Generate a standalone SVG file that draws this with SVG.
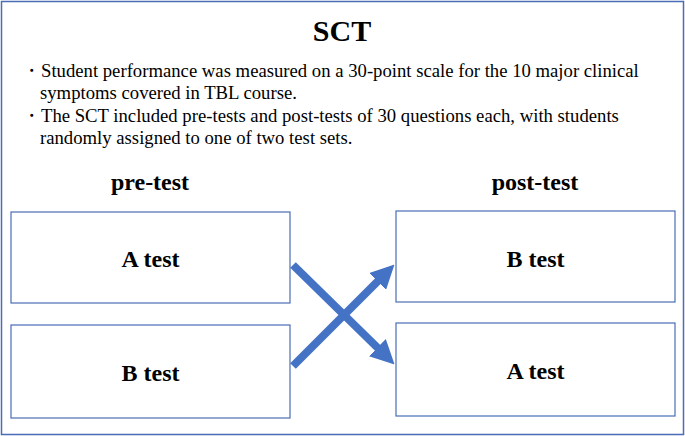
<svg xmlns="http://www.w3.org/2000/svg" width="685" height="436" viewBox="0 0 685 436">
<style>
.box{fill:#fff;stroke:#4a6db5;stroke-width:1.2}
.lbl{font-family:"Liberation Serif",serif;font-weight:bold;font-size:24px;text-anchor:middle}
.txt{font-family:"Liberation Serif",serif;font-size:18.7px}
.arr{stroke:#4472c4;stroke-width:8;fill:none}
</style>
<defs>
<marker id="ah" markerWidth="3" markerHeight="3" refX="1.5" refY="1.5" orient="auto" markerUnits="strokeWidth">
<path d="M0,0 L3,1.5 L0,3 z" fill="#4472c4"/>
</marker>
</defs>
<rect x="1.5" y="1.5" width="682" height="433" fill="#fff" stroke="#4a6db5" stroke-width="1.5"/>
<text x="342" y="41" class="lbl" style="font-size:30px">SCT</text>
<g class="txt">
<text x="22" y="77">・Student performance was measured on a 30-point scale for the 10 major clinical</text>
<text x="40" y="99">symptoms covered in TBL course.</text>
<text x="22" y="122">・The SCT included pre-tests and post-tests of 30 questions each, with students</text>
<text x="40" y="144">randomly assigned to one of two test sets.</text>
</g>
<text x="150" y="190" class="lbl">pre-test</text>
<text x="535" y="190" class="lbl">post-test</text>
<g id="preA"><rect class="box" x="11" y="212" width="279" height="91"/><text x="150.5" y="267" class="lbl">A test</text></g>
<g id="preB"><rect class="box" x="11" y="325" width="279" height="93"/><text x="150.5" y="381" class="lbl">B test</text></g>
<g id="postB"><rect class="box" x="396" y="211" width="279" height="91"/><text x="535.5" y="267" class="lbl">B test</text></g>
<g id="postA"><rect class="box" x="396" y="323" width="279" height="93"/><text x="535.5" y="379" class="lbl">A test</text></g>
<g id="connectors">
<line class="arr" x1="293" y1="265" x2="386" y2="356" marker-end="url(#ah)"/>
<line class="arr" x1="293" y1="366" x2="386" y2="273" marker-end="url(#ah)"/>
</g>
</svg>
